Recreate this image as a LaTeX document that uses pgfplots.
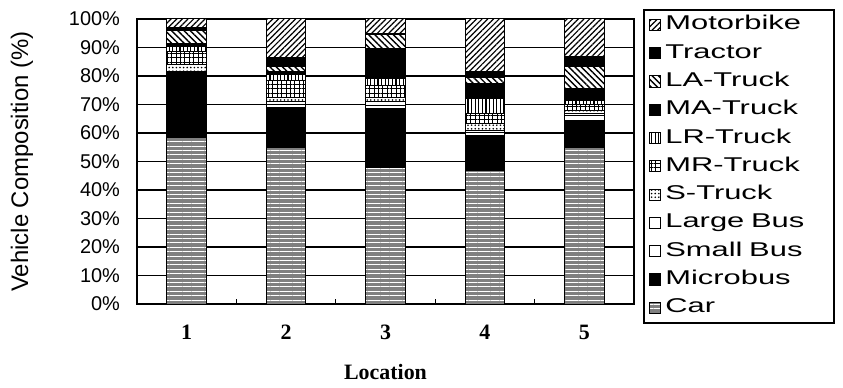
\documentclass[border=0pt]{standalone}
\usepackage{fontspec}
\setmainfont{Liberation Sans}
\newfontfamily\serifbf{Liberation Serif}
\newfontfamily\legfont[FakeStretch=1.55]{Liberation Sans}
\usepackage{pgfplots}
\pgfplotsset{compat=1.18}
\usepackage{pgfplotstable}
\usetikzlibrary{patterns,patterns.meta}

\pgfplotstableread{
loc Car Microbus SmallBus LargeBus STruck MRTruck LRTruck MATruck LATruck Tractor Motorbike
1   58.5 22.5 0.3 0.3 2.4 4.5 2.0 1.0 4.5 1.0 3.0
2   55.0 14.0 1.0 1.0 1.5 6.0 2.0 1.0 2.0 3.0 13.5
3   48.0 20.5 1.0 1.5 1.5 4.0 2.5 10.5 5.0 0.5 5.0
4   47.0 12.0 1.0 1.0 2.5 3.5 5.0 5.5 2.0 2.0 18.5
5   55.0 9.5 1.5 1.0 1.0 2.0 1.5 4.0 8.0 3.5 13.0
}\datatable

\begin{document}
\begin{tikzpicture}
\useasboundingbox (-68.5bp,-42bp) rectangle (353bp,152bp);
\begin{axis}[
  at={(0,0)}, anchor=south west,
  scale only axis,
  width=248.5bp, height=142.5bp,
  ybar stacked, bar width=0.4,
  xmin=0.5, xmax=5.5, ymin=0, ymax=100,
  xtick={1,2,3,4,5},
  xticklabels={1,2,3,4,5},
  minor xtick={1.5,2.5,3.5,4.5},
  ytick={0,10,...,100},
  yticklabels={0\%,10\%,20\%,30\%,40\%,50\%,60\%,70\%,80\%,90\%,100\%},
  major tick length=0pt, minor tick length=2.5bp,
  tick align=inside,
  xtick pos=bottom, ytick pos=left,
  minor tick style={black, line width=0.6bp},
  ymajorgrids,
  major grid style={black, line width=0.9bp},
  axis line style={black, line width=0.9bp},
  yticklabel style={font=\fontsize{10}{12}\selectfont, xshift=-5bp},
  xticklabel style={font=\serifbf\bfseries\fontsize{11}{13}\selectfont, yshift=-7bp},
  xlabel={Location},
  xlabel style={font=\serifbf\bfseries\fontsize{11}{13}\selectfont, at={(axis description cs:0.5,-0.2386)}, anchor=center},
  ylabel={Vehicle Composition (\%)},
  ylabel style={font=\fontsize{12}{14}\selectfont, at={(axis description cs:-0.2314,0.5)}, anchor=center},
  every axis plot/.append style={draw=black, line width=0.5bp},
  reverse legend,
  legend cell align=left,
  legend image code/.code={\draw[#1, line width=0.5bp] (0bp,-2.8bp) rectangle (5.6bp,2.8bp);},
  legend style={at={(1,1)}, anchor=north west, xshift=4.5bp, yshift=5bp,
    draw=black, line width=0.8bp, inner xsep=2.5bp, inner ysep=3bp,
    row sep=5.15bp, font=\legfont\fontsize{10}{12}\selectfont,
    nodes={inner xsep=2.2bp, inner ysep=0bp, text height=7bp, text depth=2bp, text width=79.5bp, align=left}},
]
\addplot[fill=black!50, postaction={pattern={Lines[angle=0,distance=2.2bp,line width=0.45bp]}, pattern color=white}] table[x=loc,y=Car]{\datatable};
\addlegendentry{Car}
\addplot[fill=black] table[x=loc,y=Microbus]{\datatable};
\addlegendentry{Microbus}
\addplot[fill=white] table[x=loc,y=SmallBus]{\datatable};
\addlegendentry{Small Bus}
\addplot[fill=white] table[x=loc,y=LargeBus]{\datatable};
\addlegendentry{Large Bus}
\addplot[fill=white, postaction={pattern={Dots[distance=1.8bp,radius=0.45bp]}, pattern color=black}] table[x=loc,y=STruck]{\datatable};
\addlegendentry{S-Truck}
\addplot[fill=white, postaction={pattern={Hatch[distance=2.2bp,line width=0.5bp]}, pattern color=black}] table[x=loc,y=MRTruck]{\datatable};
\addlegendentry{MR-Truck}
\addplot[fill=white, postaction={pattern={Lines[angle=90,distance=1.8bp,line width=0.6bp]}, pattern color=black}] table[x=loc,y=LRTruck]{\datatable};
\addlegendentry{LR-Truck}
\addplot[fill=black] table[x=loc,y=MATruck]{\datatable};
\addlegendentry{MA-Truck}
\addplot[fill=white, postaction={pattern={Lines[angle=-45,distance=2.2bp,line width=0.7bp]}, pattern color=black}] table[x=loc,y=LATruck]{\datatable};
\addlegendentry{LA-Truck}
\addplot[fill=black] table[x=loc,y=Tractor]{\datatable};
\addlegendentry{Tractor}
\addplot[fill=white, postaction={pattern={Lines[angle=45,distance=2bp,line width=0.6bp]}, pattern color=black}] table[x=loc,y=Motorbike]{\datatable};
\addlegendentry{Motorbike}
\end{axis}
\end{tikzpicture}
\end{document}
